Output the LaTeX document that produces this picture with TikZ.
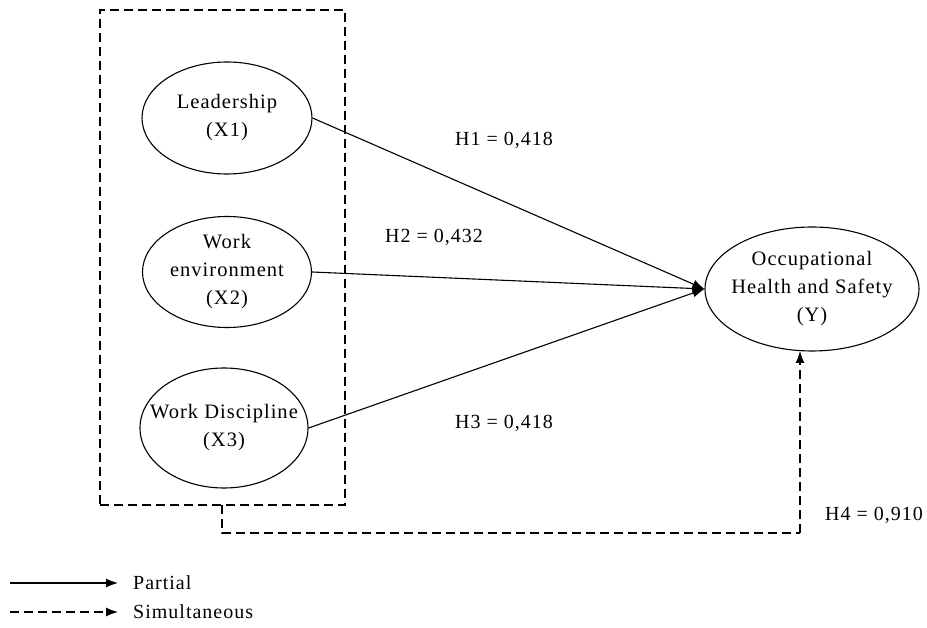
\documentclass[tikz,border=0pt]{standalone}
\usepackage{fontspec}
\setmainfont{Liberation Serif}
\newfontfamily\spacedfont[LetterSpace=5]{Liberation Serif}
\usetikzlibrary{shapes.geometric,arrows.meta}
\begin{document}
\begin{tikzpicture}[x=1pt,y=-1pt,
  var/.style={draw,ellipse,line width=1.1pt,inner sep=0pt,align=center,font=\spacedfont\fontsize{20.5}{28}\selectfont},
  lbl/.style={font=\spacedfont\fontsize{20}{24}\selectfont,anchor=west,inner sep=0pt},
  conn/.style={line width=1.1pt,-{Latex[length=12pt,width=9pt]}},
  dconn/.style={line width=1.1pt,dash pattern=on 9pt off 5pt}]
\useasboundingbox (0,0) rectangle (927,628);
\node[draw,dash pattern=on 9pt off 5pt,line width=1.1pt,minimum width=245pt,minimum height=495pt,inner sep=0pt] (box) at (222.5,257.5) {};
\node[var,minimum width=170pt,minimum height=112pt] (x1) at (227,118) {Leadership\\(X1)};
\node[var,minimum width=169pt,minimum height=111pt] (x2) at (227,272) {Work\\environment\\(X2)};
\node[var,minimum width=168pt,minimum height=120pt,inner xsep=-40pt,inner ysep=-10pt] (x3) at (224,428) {Work Discipline\\(X3)};
\node[var,minimum width=214pt,minimum height=124pt,inner xsep=-40pt,inner ysep=-10pt] (y) at (812,289) {Occupational\\Health and Safety\\(Y)};
\draw[conn] (x1.east) -- (y.west);
\draw[conn] (x2.east) -- (y.west);
\draw[conn] (x3.east) -- (y.west);
\node[lbl] (h1) at (455,140) {H1 = 0,418};
\node[lbl] (h2) at (385,237) {H2 = 0,432};
\node[lbl] (h3) at (455,423) {H3 = 0,418};
\node[lbl] (h4) at (825,515) {H4 = 0,910};
\coordinate (b0) at (222,505);
\coordinate (b1) at (222,533);
\coordinate (b2) at (800,533);
\coordinate (yb) at (800,351);
\draw[dconn] (b0) -- (b1) -- (b2);
\draw[dconn,-{Latex[length=12pt,width=9pt]}] (b2) -- (yb);
\coordinate (l1a) at (10,583);
\coordinate (l1b) at (118,583);
\coordinate (l2a) at (10,612);
\coordinate (l2b) at (118,612);
\draw[conn] (l1a) -- (l1b);
\draw[dconn,-{Latex[length=12pt,width=9pt]}] (l2a) -- (l2b);
\node[lbl] (p) at (133,583) {Partial};
\node[lbl] (s) at (133,612) {Simultaneous};
\end{tikzpicture}
\end{document}
